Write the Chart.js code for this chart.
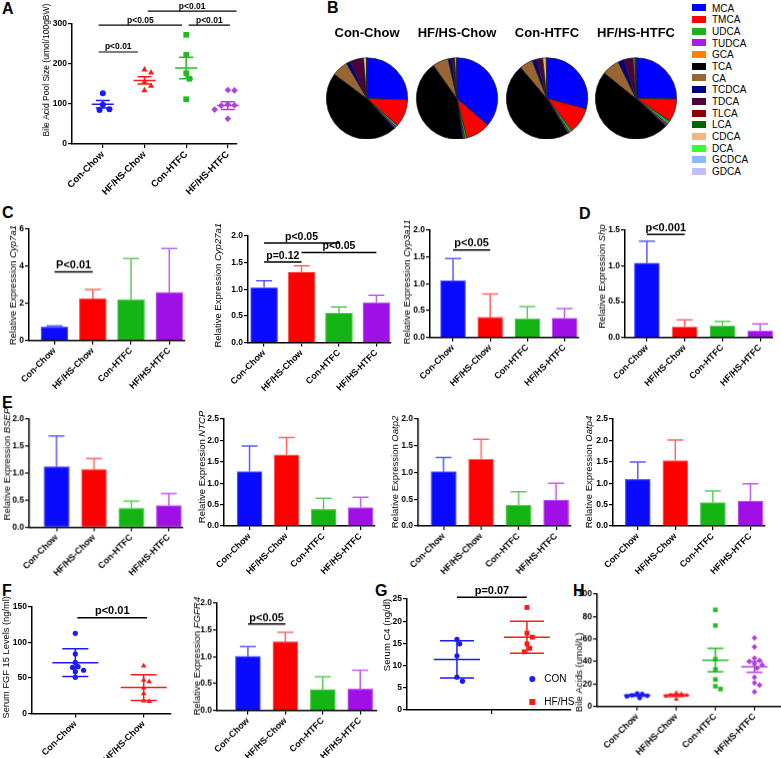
<!DOCTYPE html>
<html>
<head>
<meta charset="utf-8">
<script src="https://cdn.jsdelivr.net/npm/chart.js@4.4.0/dist/chart.umd.min.js"></script>
<style>
  body { margin: 0; background: #fff; }
  #fig { position: relative; width: 781px; height: 758px; overflow: hidden; font-family: 'Liberation Sans', Arial, sans-serif; }
  .lbl { position: absolute; font-weight: bold; font-size: 16px; line-height: 16px; }
  #legendB { position: absolute; left: 692px; top: 2.5px; font-size: 10px; }
  #legendB div { height: 11.7px; line-height: 11.7px; white-space: nowrap; }
  #legendB span { display: inline-block; width: 14px; height: 7px; margin-right: 6px; vertical-align: middle; position: relative; top: -1px; }
</style>
</head>
<body>
<div id="fig"><div id="legendB"></div></div>
<script>
// ---- data ----
const groups = ['Con-Chow', 'HF/HS-Chow', 'Con-HTFC', 'HF/HS-HTFC'];

// A: bile acid pool size (umol/100gBW), points per group, mean, SEM
const poolPts = [[127, 98, 87, 85], [186, 178, 155, 145, 134], [273, 223, 177, 163, 112], [135, 134, 99, 97, 96, 88, 86, 85, 63]];
const poolMean = [99.5, 159, 190, 96];
const poolSem = [9.5, 9, 27, 9.5];

// B: bile acid composition (%)
const bileAcids = ['MCA', 'TMCA', 'UDCA', 'TUDCA', 'GCA', 'TCA', 'CA', 'TCDCA', 'TDCA', 'TLCA', 'LCA', 'CDCA', 'DCA', 'GCDCA', 'GDCA'];
const acidColors = ['#0000ff', '#ff0000', '#1fb01f', '#a020e8', '#ff8000', '#000000', '#996633', '#000080', '#4d0040', '#8b0000', '#006400', '#f2b483', '#33ff33', '#88bbff', '#c0c0ff'];
const pieConChow = [25.5, 11, 0.9, 0.6, 0.2, 47, 6.4, 1.7, 5, 0.2, 0.1, 1.2, 0.1, 0.05, 0.05];
const pieHfhsChow = [36.4, 9.7, 0.9, 0.6, 0.1, 42.5, 6.3, 1.3, 1.0, 0.2, 0.1, 0.7, 0.1, 0.05, 0.05];
const pieConHtfc = [29.2, 10.3, 1.2, 0.6, 0.1, 47.4, 5.3, 1.8, 2.0, 0.3, 0.1, 1.4, 0.1, 0.1, 0.1];
const pieHfhsHtfc = [25.2, 9.2, 1.5, 0.8, 0.1, 49, 7, 2.5, 3.3, 0.2, 0.1, 0.6, 0.3, 0.1, 0.1];

// C, D, E, F: relative expression, mean and SD
const cyp7a1Mean = [0.72, 2.26, 2.2, 2.59];
const cyp7a1Sd = [0.06, 0.49, 2.21, 2.36];
const cyp27a1Mean = [1.03, 1.325, 0.556, 0.75];
const cyp27a1Sd = [0.13, 0.115, 0.114, 0.14];
const cyp3a11Mean = [1.06, 0.375, 0.35, 0.36];
const cyp3a11Sd = [0.41, 0.435, 0.225, 0.18];
const shpMean = [1.04, 0.15, 0.164, 0.094];
const shpSd = [0.305, 0.094, 0.061, 0.096];
const bsepMean = [1.12, 1.07, 0.35, 0.40];
const bsepSd = [0.57, 0.2, 0.13, 0.22];
const ntcpMean = [1.27, 1.66, 0.39, 0.43];
const ntcpSd = [0.6, 0.41, 0.26, 0.24];
const oatp2Mean = [1.016, 1.25, 0.39, 0.486];
const oatp2Sd = [0.264, 0.37, 0.25, 0.314];
const oatp4Mean = [1.09, 1.53, 0.545, 0.584];
const oatp4Sd = [0.405, 0.48, 0.275, 0.406];
const fgfr4Mean = [1.01, 1.28, 0.39, 0.40];
const fgfr4Sd = [0.18, 0.176, 0.235, 0.35];

// F: serum FGF15 (ng/ml)
const fgf15Pts = [[113, 84, 72, 66, 65, 61, 59, 51], [67, 47, 45, 36, 28, 18, 17]];
const fgf15Mean = [71.7, 36.6];
const fgf15Sd = [19.6, 18.2];

// G: serum C4 (ng/dl)
const c4Groups = ['CON', 'HF/HS'];
const c4Pts = [[15.9, 14.9, 12.2, 7.4, 6.5], [23.1, 17.3, 16.4, 14.9, 13.9, 13.1]];
const c4Mean = [11.4, 16.4];
const c4Sd = [4.2, 3.6];

// H: serum bile acids (umol/L)
const serumBaPts = [[11.5, 11, 10, 9.5, 9, 7.5], [12, 11, 10, 10, 9, 6.5], [86, 72, 42, 33, 24, 18, 15.5], [61, 53, 43, 41, 40, 38, 37, 34, 26, 21, 19, 13]];
const serumBaMean = [10, 10, 41.2, 35.3];
const serumBaSem = [0.8, 1, 10.4, 4.8];

// ---- styling ----
const FONT = "'Liberation Sans', Arial, Helvetica, sans-serif";
const barFill = ['#0a0aff', '#ff0000', '#14b414', '#a010e6'];
const barEdge = ['#5c5cff', '#ff6666', '#5ccc5c', '#c060f0'];
const dotColors = ['#1a1aff', '#ff1a1a', '#22bb22', '#b040e0'];
const dotStyles = ['circle', 'triangle', 'rect', 'rectRot'];

Chart.defaults.font.family = FONT;
Chart.defaults.color = '#000';
Chart.defaults.animation = false;
Chart.defaults.events = [];
Chart.defaults.plugins.legend.display = false;
Chart.defaults.plugins.tooltip.enabled = false;

const fig = document.getElementById('fig');

function box(x, y, w, h) {
  const d = document.createElement('div');
  d.style.cssText = 'position:absolute;left:' + x + 'px;top:' + y + 'px;width:' + w + 'px;height:' + h + 'px';
  const c = document.createElement('canvas');
  d.appendChild(c);
  fig.appendChild(d);
  return c;
}

function letter(t, x, capTop) {
  const d = document.createElement('div');
  d.className = 'lbl';
  d.textContent = t;
  d.style.left = x + 'px';
  d.style.top = (capTop - 2) + 'px';
  fig.appendChild(d);
}

// simple beeswarm so points of a column do not sit on each other
function swarm(vals, pxY, pxX, gap) {
  const placed = [];
  const out = new Array(vals.length).fill(0);
  const order = vals.map((v, i) => i).sort((a, b) => vals[b] - vals[a]);
  order.forEach(i => {
    const y = vals[i] * pxY;
    for (let k = 0; k < 40; k++) {
      const off = (k % 2 ? 1 : -1) * Math.ceil(k / 2) * gap * 0.55;
      if (placed.every(q => Math.hypot(q.x - off, q.y - y) >= gap)) {
        placed.push({ x: off, y: y });
        out[i] = off / pxX;
        break;
      }
    }
  });
  return out;
}

function overlay(p, left, top) {
  return {
    id: 'overlay',
    afterDatasetsDraw(chart) {
      const ctx = chart.ctx, xs = chart.scales.x, ys = chart.scales.y, ca = chart.chartArea;
      ctx.save();
      ctx.lineCap = 'butt';
      // error bars
      p.mean.forEach((m, i) => {
        const x = xs.getPixelForValue(i);
        const yM = ys.getPixelForValue(m);
        const yHi = ys.getPixelForValue(m + p.err[i]);
        ctx.strokeStyle = p.kind === 'bar' ? barEdge[i] : p.colors[i];
        ctx.lineWidth = 1.5;
        ctx.beginPath();
        if (p.kind === 'bar') {
          ctx.moveTo(x, yM); ctx.lineTo(x, yHi);
          ctx.moveTo(x - p.cap, yHi); ctx.lineTo(x + p.cap, yHi);
        } else {
          const yLo = ys.getPixelForValue(m - p.err[i]);
          ctx.moveTo(x - p.meanW, yM); ctx.lineTo(x + p.meanW, yM);
          ctx.moveTo(x, yLo); ctx.lineTo(x, yHi);
          ctx.moveTo(x - p.cap, yHi); ctx.lineTo(x + p.cap, yHi);
          ctx.moveTo(x - p.cap, yLo); ctx.lineTo(x + p.cap, yLo);
        }
        ctx.stroke();
      });
      // significance brackets
      (p.brackets || []).forEach(b => {
        const y = ys.getPixelForValue(b.y);
        const xa = xs.getPixelForValue(b.a), xb = xs.getPixelForValue(b.b);
        ctx.strokeStyle = '#000';
        ctx.lineWidth = p.bLine || 1.5;
        ctx.beginPath(); ctx.moveTo(xa, y); ctx.lineTo(xb, y); ctx.stroke();
        ctx.fillStyle = '#000';
        ctx.font = 'bold ' + p.bFont + 'px ' + FONT;
        ctx.textAlign = 'center';
        ctx.textBaseline = 'alphabetic';
        ctx.fillText(b.t, (xa + xb) / 2, y - p.bFont * 0.3);
      });
      // legend (panel G)
      (p.legend || []).forEach(l => {
        const x = l.x - left, y = l.y - top;
        ctx.fillStyle = l.color;
        ctx.beginPath();
        if (l.style === 'circle') ctx.arc(x, y, 3, 0, 2 * Math.PI);
        else ctx.rect(x - 3, y - 3, 6, 6);
        ctx.fill();
        ctx.fillStyle = '#000';
        ctx.font = '10px ' + FONT;
        ctx.textAlign = 'left';
        ctx.textBaseline = 'middle';
        ctx.fillText(l.text, x + 12, y);
      });
      // y title, gene names in italics
      const fonts = p.title.map(q => (q[1] ? 'italic ' : '') + p.tFont + 'px ' + FONT);
      const widths = p.title.map((q, i) => { ctx.font = fonts[i]; return ctx.measureText(q[0]).width; });
      const total = widths.reduce((a, b) => a + b, 0);
      ctx.translate(ca.left - p.tOff, p.tMid - top);
      ctx.rotate(-Math.PI / 2);
      ctx.fillStyle = '#000';
      ctx.textAlign = 'left';
      ctx.textBaseline = 'middle';
      let tx = -total / 2;
      p.title.forEach((q, i) => { ctx.font = fonts[i]; ctx.fillText(q[0], tx, 0); tx += widths[i]; });
      ctx.restore();
    }
  };
}

function panel(p) {
  const yw = 40, padRight = 10;
  const padTop = p.padTop || 26, xh = p.xh || 58;
  const left = p.x0 - yw, top = p.yTop - padTop;
  const canvas = box(left, top, p.x1 - p.x0 + yw + padRight, p.yBot - p.yTop + padTop + xh);
  const pxX = (p.x1 - p.x0) / (p.xMax - p.xMin);
  const pxY = (p.yBot - p.yTop) / p.yMax;
  const xTicks = p.xTicks || [0, 1, 2, 3];
  const xLabels = p.xLabels || groups;
  let datasets;
  if (p.kind === 'bar') {
    datasets = [{
      data: p.mean.map((v, i) => ({ x: i, y: v })),
      backgroundColor: barFill,
      borderColor: barEdge,
      borderWidth: 1.2,
      barThickness: p.barW || 25
    }];
  } else {
    datasets = p.points.map((vals, g) => {
      const off = swarm(vals, pxY, pxX, p.gap || 5.5);
      return {
        data: vals.map((v, k) => ({ x: g + off[k], y: v })),
        pointStyle: p.styles[g],
        pointRadius: p.radius[g],
        backgroundColor: p.colors[g],
        borderColor: p.colors[g],
        borderWidth: 0,
        clip: false
      };
    });
  }
  new Chart(canvas, {
    type: p.kind === 'bar' ? 'bar' : 'scatter',
    data: { datasets: datasets },
    options: {
      responsive: true,
      maintainAspectRatio: false,
      layout: { padding: { top: padTop, right: padRight, left: 0, bottom: 0 } },
      scales: {
        x: {
          type: 'linear',
          min: p.xMin,
          max: p.xMax,
          offset: false,
          afterBuildTicks: s => { s.ticks = xTicks.map(v => ({ value: v })); },
          afterFit: s => { s.height = xh; },
          grid: { display: true, offset: false, drawOnChartArea: false, drawTicks: true, tickLength: 4, color: '#000', lineWidth: 1.2 },
          border: { display: true, color: '#000', width: 1.5 },
          ticks: {
            autoSkip: false, maxRotation: 45, minRotation: 45, padding: 1,
            font: { size: p.xFont || 9, weight: 'bold' },
            callback: (v, i) => xLabels[i]
          }
        },
        y: {
          min: 0,
          max: p.yMax,
          afterFit: s => { s.width = yw; },
          grid: { display: true, drawOnChartArea: false, drawTicks: true, tickLength: 4, color: '#000', lineWidth: 1.2 },
          border: { display: true, color: '#000', width: 1.5 },
          ticks: {
            stepSize: p.step, padding: 1,
            font: { size: 8.5, weight: 'bold' },
            callback: v => p.dec ? v.toFixed(p.dec) : v
          }
        }
      }
    },
    plugins: [overlay(p, left, top)]
  });
}

function pie(title, values, cx) {
  const canvas = box(cx - 46, 21.5, 92, 117.5);
  new Chart(canvas, {
    type: 'pie',
    data: {
      labels: bileAcids,
      datasets: [{ data: values, backgroundColor: acidColors, borderColor: '#222', borderWidth: 0.7, hoverOffset: 0, offset: 0 }]
    },
    options: {
      responsive: true,
      maintainAspectRatio: false,
      layout: { padding: 0 },
      plugins: {
        title: { display: true, text: title, color: '#000', font: { size: 13, weight: 'bold' }, padding: { top: 4, bottom: 15.9 } }
      }
    }
  });
}

// ---- panel letters ----
letter('A', 2, 3);
letter('B', 327, 2);
letter('C', 2, 207);
letter('D', 579, 208);
letter('E', 2, 397);
letter('F', 2, 585);
letter('G', 375, 585);
letter('H', 573, 585);

// ---- A ----
panel({
  kind: 'scatter', x0: 72, x1: 237, yTop: 24, yBot: 144, yMax: 300, step: 100,
  xMin: -0.74, xMax: 3.22, points: poolPts, mean: poolMean, err: poolSem,
  colors: dotColors, styles: dotStyles, radius: [3, 3.6, 4, 3.3], meanW: 11, cap: 7, gap: 6,
  padTop: 24, xh: 62, xFont: 9.5,
  brackets: [
    { a: 1.08, b: 3.21, y: 332, t: 'p<0.01' },
    { a: -0.1, b: 1.9, y: 297, t: 'p<0.05' },
    { a: 2.06, b: 3.05, y: 297, t: 'p<0.01' },
    { a: -0.1, b: 0.84, y: 230, t: 'p<0.01' }
  ], bFont: 8.5, bLine: 1.2,
  title: [['Bile Acid Pool Size (umol/100gBW)', false]], tFont: 8.5, tOff: 25, tMid: 70
});

// ---- B ----
pie('Con-Chow', pieConChow, 366.7);
pie('HF/HS-Chow', pieHfhsChow, 456.7);
pie('Con-HTFC', pieConHtfc, 546.7);
pie('HF/HS-HTFC', pieHfhsHtfc, 636);
const legendB = document.getElementById('legendB');
bileAcids.forEach((name, i) => {
  const row = document.createElement('div');
  row.innerHTML = '<span style="background:' + acidColors[i] + '"></span>' + name;
  legendB.appendChild(row);
});

// ---- C ----
panel({
  kind: 'bar', x0: 29, x1: 185, yTop: 229.3, yBot: 340, yMax: 6, step: 2, dec: 0,
  xMin: -0.666, xMax: 3.41, mean: cyp7a1Mean, err: cyp7a1Sd, barW: 27, cap: 8,
  brackets: [{ a: 0, b: 1, y: 3.69, t: 'P<0.01' }], bFont: 11,
  title: [['Relative Expression ', false], ['Cyp7a1', true]], tFont: 9.5, tOff: 15.5, tMid: 285
});
panel({
  kind: 'bar', x0: 248, x1: 391, yTop: 235.7, yBot: 342.3, yMax: 2, step: 0.5, dec: 1,
  xMin: -0.43, xMax: 3.39, mean: cyp27a1Mean, err: cyp27a1Sd, barW: 27, cap: 8,
  brackets: [
    { a: 0, b: 2, y: 1.87, t: 'p<0.05' },
    { a: 0, b: 1, y: 1.51, t: 'p=0.12' },
    { a: 1, b: 3, y: 1.69, t: 'p<0.05' }
  ], bFont: 10.5,
  title: [['Relative Expression ', false], ['Cyp27a1', true]], tFont: 9.5, tOff: 30, tMid: 285
});
panel({
  kind: 'bar', x0: 430, x1: 579, yTop: 230, yBot: 336.7, yMax: 2, step: 0.5, dec: 1,
  xMin: -0.62, xMax: 3.39, mean: cyp3a11Mean, err: cyp3a11Sd, barW: 25, cap: 8,
  brackets: [{ a: 0, b: 1, y: 1.63, t: 'p<0.05' }], bFont: 11,
  title: [['Relative Expression ', false], ['Cyp3a11', true]], tFont: 9.5, tOff: 23, tMid: 281.5
});

// ---- D ----
panel({
  kind: 'bar', x0: 625, x1: 773, yTop: 230, yBot: 336.7, yMax: 1.5, step: 0.5, dec: 1,
  xMin: -0.58, xMax: 3.34, mean: shpMean, err: shpSd, barW: 25, cap: 8,
  brackets: [{ a: 0, b: 1, y: 1.44, t: 'p<0.001' }], bFont: 11,
  title: [['Relative Expression ', false], ['Shp', true]], tFont: 9.5, tOff: 23, tMid: 276
});

// ---- E ----
panel({
  kind: 'bar', x0: 29.3, x1: 182, yTop: 419.3, yBot: 526.7, yMax: 2, step: 0.5, dec: 1,
  xMin: -0.73, xMax: 3.37, mean: bsepMean, err: bsepSd, barW: 25, cap: 8,
  title: [['Relative Expression ', false], ['BSEP', true]], tFont: 9.5, tOff: 22, tMid: 464
});
panel({
  kind: 'bar', x0: 224, x1: 375, yTop: 419, yBot: 526, yMax: 2.5, step: 0.5, dec: 1,
  xMin: -0.69, xMax: 3.39, mean: ntcpMean, err: ntcpSd, barW: 25, cap: 8,
  title: [['Relative Expression ', false], ['NTCP', true]], tFont: 9.5, tOff: 22, tMid: 467
});
panel({
  kind: 'bar', x0: 418.3, x1: 570, yTop: 419, yBot: 526, yMax: 2, step: 0.5, dec: 1,
  xMin: -0.676, xMax: 3.39, mean: oatp2Mean, err: oatp2Sd, barW: 25, cap: 8,
  title: [['Relative Expression ', false], ['Oatp2', true]], tFont: 9.5, tOff: 23, tMid: 472
});
panel({
  kind: 'bar', x0: 612.7, x1: 764, yTop: 419, yBot: 526, yMax: 2.5, step: 0.5, dec: 1,
  xMin: -0.66, xMax: 3.37, mean: oatp4Mean, err: oatp4Sd, barW: 25, cap: 8,
  title: [['Relative Expression ', false], ['Oatp4', true]], tFont: 9.5, tOff: 23.7, tMid: 472
});

// ---- F ----
panel({
  kind: 'scatter', x0: 31.7, x1: 170, yTop: 606.7, yBot: 713.3, yMax: 150, step: 50,
  xMin: -0.634, xMax: 1.39, xTicks: [0, 1], xLabels: groups.slice(0, 2),
  points: fgf15Pts, mean: fgf15Mean, err: fgf15Sd,
  colors: dotColors.slice(0, 2), styles: ['circle', 'triangle'], radius: [2.6, 3.2], meanW: 23, cap: 13, gap: 5,
  brackets: [{ a: 0.03, b: 1.05, y: 135, t: 'p<0.01' }], bFont: 11,
  title: [['Serum FGF 15 Levels (ng/ml)', false]], tFont: 9.3, tOff: 25.7, tMid: 657
});
panel({
  kind: 'bar', x0: 216.7, x1: 376, yTop: 603.3, yBot: 710, yMax: 2, step: 0.5, dec: 1,
  xMin: -0.826, xMax: 3.43, mean: fgfr4Mean, err: fgfr4Sd, barW: 25, cap: 8,
  brackets: [{ a: 0, b: 1, y: 1.61, t: 'p<0.05' }], bFont: 11,
  title: [['Relative Expression ', false], ['FGFR4', true]], tFont: 9.5, tOff: 19.5, tMid: 656
});

// ---- G ----
panel({
  kind: 'scatter', x0: 406.7, x1: 570, yTop: 599, yBot: 710, yMax: 25, step: 5,
  xMin: -0.714, xMax: 1.62, xTicks: [0.5], xLabels: [''],
  points: c4Pts, mean: c4Mean, err: c4Sd,
  colors: dotColors.slice(0, 2), styles: ['circle', 'rect'], radius: [2.6, 3.4], meanW: 23, cap: 17, gap: 5,
  brackets: [{ a: 0, b: 1, y: 25.4, t: 'p=0.07' }], bFont: 11, padTop: 26, xh: 40,
  legend: c4Groups.map((g, i) => ({ text: g, color: dotColors[i], style: i ? 'rect' : 'circle', x: 532, y: 679 + i * 23 })),
  title: [['Serum C4 (ng/dl)', false]], tFont: 9.5, tOff: 20, tMid: 635
});

// ---- H ----
panel({
  kind: 'scatter', x0: 597.3, x1: 780, yTop: 594.3, yBot: 706, yMax: 100, step: 20,
  xMin: -1.02, xMax: 3.67, points: serumBaPts, mean: serumBaMean, err: serumBaSem,
  colors: dotColors, styles: dotStyles, radius: [2.4, 2.9, 3.2, 2.9], meanW: 13, cap: 8, gap: 4.6,
  title: [['Bile Acids (umol/L)', false]], tFont: 9.5, tOff: 18, tMid: 672
});
</script>
</body>
</html>
